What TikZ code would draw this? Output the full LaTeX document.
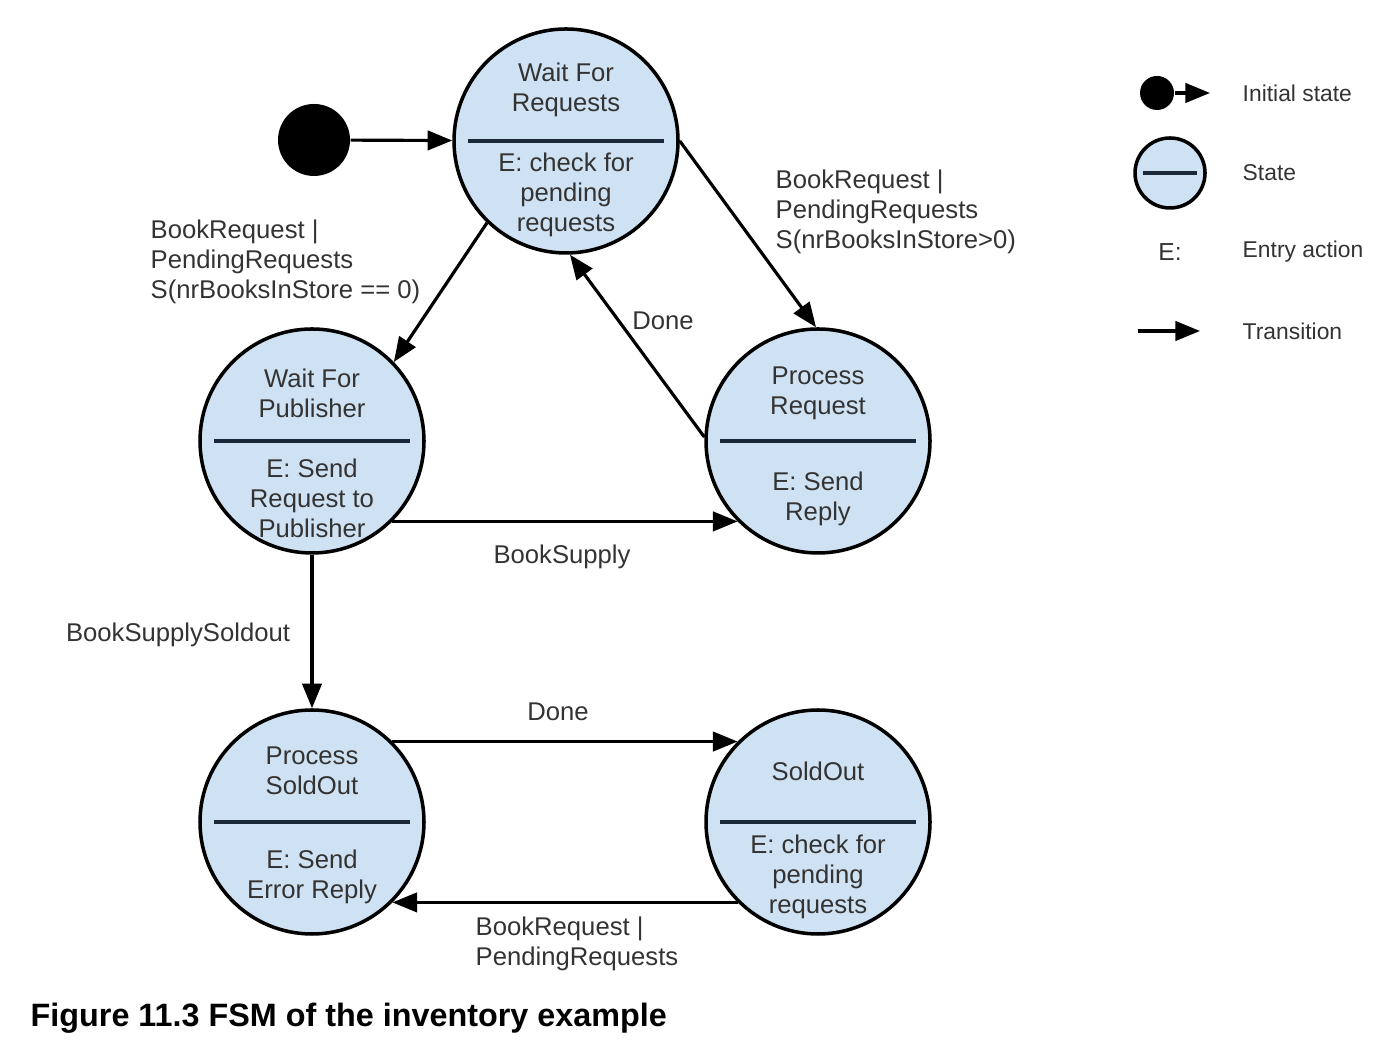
\documentclass[tikz,border=0pt]{standalone}
\usepackage{fontspec}
\setmainfont{Liberation Sans}
\usetikzlibrary{arrows.meta}
\definecolor{statefill}{HTML}{CFE2F3}
\definecolor{labelgray}{HTML}{333333}
\definecolor{divcolor}{HTML}{1A2838}

\begin{document}
\begin{tikzpicture}[
  state/.style={draw, circle, line width=1pt, fill=statefill, minimum size=2.24cm, inner sep=0},
  divider/.style={draw=divcolor, line width=1.3pt},
  txt/.style={align=center, text=labelgray, font=\fontsize{7.3}{8.5}\selectfont, inner sep=0},
  lbl/.style={align=left, text=labelgray, font=\fontsize{7.3}{8.5}\selectfont, inner sep=0, anchor=west},
  trans/.style={line width=0.9pt, -{Triangle[length=7pt,width=5.5pt]}},
  legend/.style={text=labelgray, font=\fontsize{6.5}{7.5}\selectfont, inner sep=0, anchor=west}
]
  \useasboundingbox (0,0) rectangle (13.84,10.46);

  % initial dot
  \node[circle, fill=black, minimum size=0.72cm, inner sep=0] (init) at (3.14,9.06) {};

  % states
  \node[state] (wfr) at (5.66,9.05) {};
  \node[state] (wfp) at (3.12,6.05) {};
  \node[state] (pr)  at (8.18,6.05) {};
  \node[state] (pso) at (3.12,2.24) {};
  \node[state] (so)  at (8.18,2.24) {};

  \foreach \s in {wfr,wfp,pr,pso,so}
    \draw[divider] ([xshift=0.16cm]\s.west) -- ([xshift=-0.16cm]\s.east);

  \node[txt] (wfr-top) at (5.66,9.56) {Wait For\\Requests};
  \node[txt] (wfr-bot) at (5.66,8.51) {E: check for\\pending\\requests};
  \node[txt] (wfp-top) at (3.12,6.53) {Wait For\\Publisher};
  \node[txt] (wfp-bot) at (3.12,5.48) {E: Send\\Request to\\Publisher};
  \node[txt] (pr-top)  at (8.18,6.53) {Process\\Request};
  \node[txt] (pr-bot)  at (8.18,5.47) {E: Send\\Reply};
  \node[txt] (pso-top) at (3.12,2.75) {Process\\SoldOut};
  \node[txt] (pso-bot) at (3.12,1.69) {E: Send\\Error Reply};
  \node[txt] (so-top)  at (8.18,2.75) {SoldOut};
  \node[txt] (so-bot)  at (8.18,1.69) {E: check for\\pending\\requests};

  % transitions
  \draw[trans] (init) -- (wfr);
  \draw[trans] (wfr.226) -- (wfp.44);
  \draw[trans] (wfr.0) -- (pr.91);
  \draw[trans] (pr.178) -- (wfr.272);
  \draw[trans] (wfp.315) -- (pr.225);
  \draw[trans] (wfp.south) -- (pso.north);
  \draw[trans] (pso.45) -- (so.135);
  \draw[trans] (so.225) -- (pso.315);

  % transition labels
  \node[lbl] (l-empty) at (1.50,7.84) {BookRequest |\\PendingRequests\\S(nrBooksInStore == 0)};
  \node[lbl] (l-full)  at (7.75,8.34) {BookRequest |\\PendingRequests\\S(nrBooksInStore>0)};
  \node[txt] (l-done1) at (6.63,7.25) {Done};
  \node[txt] (l-supply) at (5.62,4.89) {BookSupply};
  \node[txt] (l-soldout) at (1.78,4.11) {BookSupplySoldout};
  \node[txt] (l-done2) at (5.58,3.34) {Done};
  \node[lbl] (l-again) at (4.75,1.02) {BookRequest |\\PendingRequests};

  % legend
  \node[circle, fill=black, minimum size=0.34cm, inner sep=0] (k-init) at (11.57,9.53) {};
  \coordinate (k-init-end) at (12.10,9.53);
  \draw[trans] (k-init) -- (k-init-end);
  \node[legend] (k-init-txt) at (12.42,9.53) {Initial state};

  \node[draw, circle, line width=1pt, fill=statefill, minimum size=0.70cm, inner sep=0] (k-state) at (11.70,8.73) {};
  \draw[divider] ([xshift=0.1cm]k-state.west) -- ([xshift=-0.1cm]k-state.east);
  \node[legend] (k-state-txt) at (12.42,8.73) {State};

  \node[legend, anchor=center, font=\fontsize{7}{8}\selectfont] (k-entry) at (11.70,7.94) {E:};
  \node[legend] (k-entry-txt) at (12.42,7.94) {Entry action};

  \coordinate (k-trans-a) at (11.38,7.15);
  \coordinate (k-trans-b) at (12.00,7.15);
  \draw[trans] (k-trans-a) -- (k-trans-b);
  \node[legend] (k-trans-txt) at (12.42,7.15) {Transition};

  % caption
  \node[anchor=west, inner sep=0, font=\bfseries\fontsize{9.2}{11}\selectfont] (caption) at (0.30,0.28) {Figure 11.3 FSM of the inventory example};
\end{tikzpicture}
\end{document}
